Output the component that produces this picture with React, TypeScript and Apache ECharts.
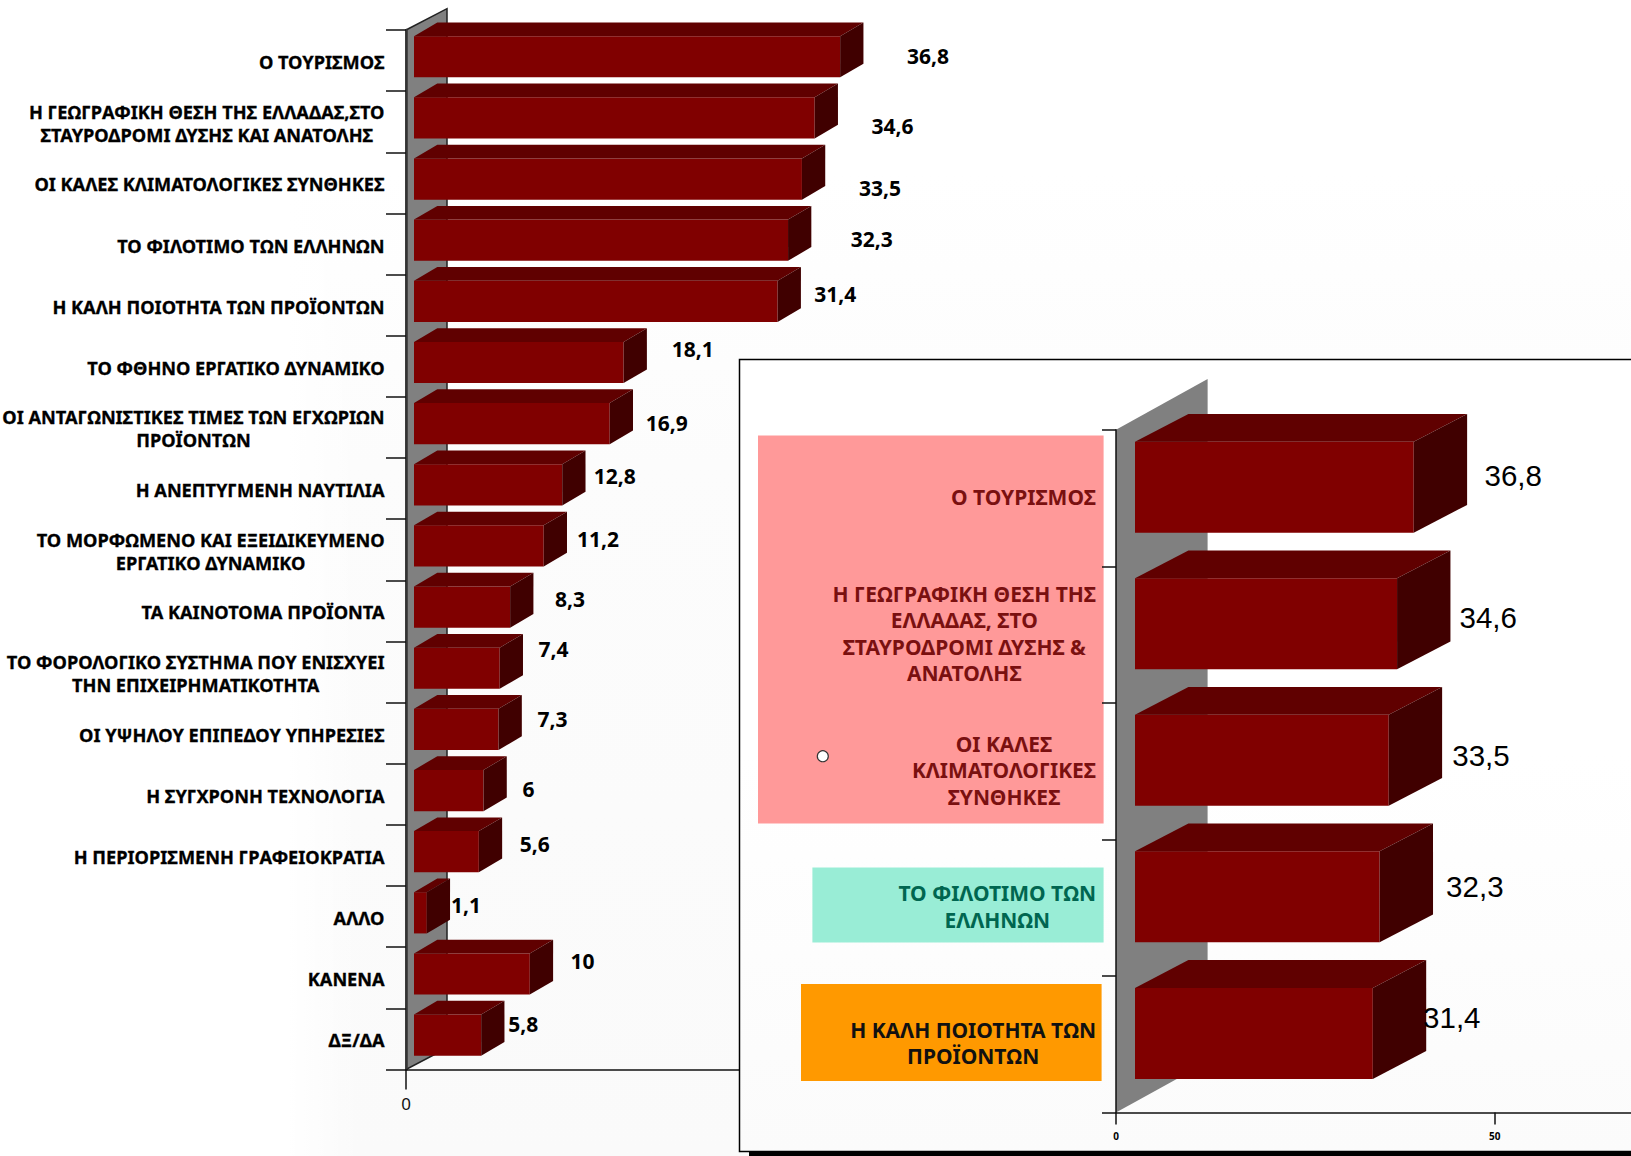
import React, { useEffect, useRef } from "react";
import * as echarts from "echarts";

const mainCategories = [
  "Ο ΤΟΥΡΙΣΜΟΣ",
  "Η ΓΕΩΓΡΑΦΙΚΗ ΘΕΣΗ ΤΗΣ ΕΛΛΑΔΑΣ,ΣΤΟ\nΣΤΑΥΡΟΔΡΟΜΙ ΔΥΣΗΣ ΚΑΙ ΑΝΑΤΟΛΗΣ",
  "ΟΙ ΚΑΛΕΣ ΚΛΙΜΑΤΟΛΟΓΙΚΕΣ ΣΥΝΘΗΚΕΣ",
  "ΤΟ ΦΙΛΟΤΙΜΟ ΤΩΝ ΕΛΛΗΝΩΝ",
  "Η ΚΑΛΗ ΠΟΙΟΤΗΤΑ ΤΩΝ ΠΡΟΪΟΝΤΩΝ",
  "ΤΟ ΦΘΗΝΟ ΕΡΓΑΤΙΚΟ ΔΥΝΑΜΙΚΟ",
  "ΟΙ ΑΝΤΑΓΩΝΙΣΤΙΚΕΣ ΤΙΜΕΣ ΤΩΝ ΕΓΧΩΡΙΩΝ\nΠΡΟΪΟΝΤΩΝ",
  "Η ΑΝΕΠΤΥΓΜΕΝΗ ΝΑΥΤΙΛΙΑ",
  "ΤΟ ΜΟΡΦΩΜΕΝΟ ΚΑΙ ΕΞΕΙΔΙΚΕΥΜΕΝΟ\nΕΡΓΑΤΙΚΟ ΔΥΝΑΜΙΚΟ",
  "ΤΑ ΚΑΙΝΟΤΟΜΑ ΠΡΟΪΟΝΤΑ",
  "ΤΟ ΦΟΡΟΛΟΓΙΚΟ ΣΥΣΤΗΜΑ ΠΟΥ ΕΝΙΣΧΥΕΙ\nΤΗΝ ΕΠΙΧΕΙΡΗΜΑΤΙΚΟΤΗΤΑ",
  "ΟΙ ΥΨΗΛΟΥ ΕΠΙΠΕΔΟΥ ΥΠΗΡΕΣΙΕΣ",
  "Η ΣΥΓΧΡΟΝΗ ΤΕΧΝΟΛΟΓΙΑ",
  "Η ΠΕΡΙΟΡΙΣΜΕΝΗ ΓΡΑΦΕΙΟΚΡΑΤΙΑ",
  "ΑΛΛΟ",
  "ΚΑΝΕΝΑ",
  "ΔΞ/ΔΑ",
];
const mainValues = [36.8, 34.6, 33.5, 32.3, 31.4, 18.1, 16.9, 12.8, 11.2, 8.3, 7.4, 7.3, 6, 5.6, 1.1, 10, 5.8];
const mainLabelDx = [95.8, 85.8, 86.1, 91.7, 65.7, 77.2, 65.1, 60.6, 62.4, 67.9, 61.7, 61.9, 52.9, 63.9, 47.3, 60.7, 50];
const mainLabelDy = [-4.4, 4.2, 5.4, -4.8, -10.8, -17.8, -4.1, -12.2, -11, -11.8, -23.1, -14.5, -4.9, -11, -11.7, -16.7, -15.4];

const insetCategories = [
  "Ο ΤΟΥΡΙΣΜΟΣ",
  "Η ΓΕΩΓΡΑΦΙΚΗ ΘΕΣΗ ΤΗΣ\nΕΛΛΑΔΑΣ, ΣΤΟ\nΣΤΑΥΡΟΔΡΟΜΙ ΔΥΣΗΣ &\nΑΝΑΤΟΛΗΣ",
  "ΟΙ ΚΑΛΕΣ\nΚΛΙΜΑΤΟΛΟΓΙΚΕΣ\nΣΥΝΘΗΚΕΣ",
  "ΤΟ ΦΙΛΟΤΙΜΟ ΤΩΝ\nΕΛΛΗΝΩΝ",
  "Η ΚΑΛΗ ΠΟΙΟΤΗΤΑ ΤΩΝ\nΠΡΟΪΟΝΤΩΝ",
];
const insetValues = [36.8, 34.6, 33.5, 32.3, 31.4];
const insetLabelStyleKeys = ["r", "r", "r", "t", "k"];
const insetLabelDx = [118.5, 110.2, 111.3, 114.2, 98];
const insetLabelDy = [-22.6, -16.6, -15.8, -21.3, -26.7];

const FRONT = "#800000";
const TOP = "#600000";
const SIDE = "#400000";
const FONT = "Noto Sans";

function barRenderer(cfg: any) {
  return (params: any, api: any) => {
    const i = api.value(1);
    const v = api.value(0);
    const start = api.coord([0, i]);
    const end = api.coord([v, i]);
    const x0 = start[0] + cfg.offX;
    const x1 = end[0] + cfg.offX;
    const cy = start[1] + cfg.offY;
    const y0 = cy - cfg.h / 2;
    const y1 = cy + cfg.h / 2;
    const { dx, dy } = cfg;
    return {
      type: "group",
      children: [
        { type: "rect", shape: { x: x0, y: y0, width: x1 - x0, height: y1 - y0 }, style: { fill: FRONT } },
        { type: "polygon", shape: { points: [[x0, y0], [x1, y0], [x1 + dx, y0 - dy], [x0 + dx, y0 - dy]] }, style: { fill: TOP } },
        { type: "polygon", shape: { points: [[x1, y0], [x1 + dx, y0 - dy], [x1 + dx, y1 - dy], [x1, y1]] }, style: { fill: SIDE } },
        {
          type: "text",
          x: end[0] + cfg.labelDx[params.dataIndex],
          y: start[1] + cfg.labelDy[params.dataIndex],
          z2: 10,
          style: {
            text: String(v).replace(".", ","),
            fill: "#000",
            fontFamily: cfg.font,
            fontSize: cfg.fontSize,
            fontWeight: cfg.fontWeight,
            align: "center",
            verticalAlign: "middle",
          },
        },
      ],
    };
  };
}

const centered = (text: string, key: string) =>
  text.split("\n").map((l) => `{${key}|${l}}`).join("\n");

export default function App() {
  const ref = useRef<HTMLDivElement>(null);
  useEffect(() => {
    const chart = echarts.init(ref.current!, undefined, { renderer: "svg" });
    const axisStroke = { color: "#111", width: 1.5 };
    const boldHeavy = { textBorderColor: "#000", textBorderWidth: 0.3 };
    const option: any = {
      animation: false,
      backgroundColor: {
        type: "linear", x: 0, y: 0, x2: 0, y2: 1,
        colorStops: [
          { offset: 0, color: "#ffffff" },
          { offset: 0.15, color: "#ffffff" },
          { offset: 0.4, color: "#fcfcfc" },
          { offset: 1, color: "#fafafa" },
        ],
      },
      grid: [
        { left: 406, top: 30, width: 579, height: 1039.5, containLabel: false, outerBoundsMode: "none" },
        { left: 1116, top: 429.7, width: 515, height: 682.8, containLabel: false, outerBoundsMode: "none" },
      ],
      xAxis: [
        {
          gridIndex: 0, type: "value", min: 0, max: 50, interval: 50,
          axisLine: { show: true, lineStyle: axisStroke },
          axisTick: { show: true, length: 20, lineStyle: axisStroke },
          axisLabel: { showMaxLabel: false, margin: 25, color: "#111", fontFamily: FONT, fontSize: 17 },
          splitLine: { show: false },
        },
        {
          gridIndex: 1, type: "value", min: 0, max: 68, interval: 50, z: 8,
          axisLine: { show: true, lineStyle: axisStroke },
          axisTick: { show: true, length: 12, lineStyle: axisStroke },
          axisLabel: { showMaxLabel: false, margin: 18, color: "#000", fontFamily: FONT, fontSize: 10, fontWeight: 700 },
          splitLine: { show: false },
        },
      ],
      yAxis: [
        {
          gridIndex: 0, type: "category", inverse: true, data: mainCategories,
          axisLine: { show: true, lineStyle: { color: "#333", width: 2.5 } },
          axisTick: { show: true, length: 20, lineStyle: axisStroke },
          axisLabel: {
            interval: 0, margin: 21.5, padding: [3, 0, 0, 0],
            formatter: (v: string) => centered(v, "m"),
            rich: { m: { align: "center", color: "#000", fontFamily: FONT, fontSize: 18.2, fontWeight: 700, lineHeight: 23, ...boldHeavy } },
          },
        },
        {
          gridIndex: 1, type: "category", inverse: true, data: insetCategories, z: 8,
          axisLine: { show: true, lineStyle: axisStroke },
          axisTick: { show: true, length: 14, lineStyle: axisStroke },
          axisLabel: {
            interval: 0, margin: 20, padding: [0, 0, 2, 0],
            formatter: (v: string, i: number) => centered(v, insetLabelStyleKeys[i]),
            rich: {
              r: { align: "center", color: "#7a1010", fontFamily: FONT, fontSize: 21, fontWeight: 700, lineHeight: 26.5 },
              t: { align: "center", color: "#006650", fontFamily: FONT, fontSize: 21, fontWeight: 700, lineHeight: 26.5 },
              k: { align: "center", color: "#111", fontFamily: FONT, fontSize: 21, fontWeight: 700, lineHeight: 26.5 },
            },
          },
        },
      ],
      series: [
        {
          type: "custom", xAxisIndex: 0, yAxisIndex: 0, z: 3,
          encode: { x: 0, y: 1 },
          data: mainValues.map((v, i) => [v, i]),
          renderItem: barRenderer({ offX: 8, offY: -3.8, h: 41.2, dx: 23.3, dy: 13.7, labelDx: mainLabelDx, labelDy: mainLabelDy, font: FONT, fontSize: 21, fontWeight: 700 }),
        },
        {
          type: "custom", xAxisIndex: 1, yAxisIndex: 1, z: 9,
          encode: { x: 0, y: 1 },
          data: insetValues.map((v, i) => [v, i]),
          renderItem: barRenderer({ offX: 19, offY: -10.8, h: 91, dx: 53.4, dy: 27.8, labelDx: insetLabelDx, labelDy: insetLabelDy, font: "Liberation Sans", fontSize: 29.5, fontWeight: 400 }),
        },
      ],
      graphic: {
        elements: [
          {
            type: "rect", z: -2, shape: { x: 0, y: 0, width: 360, height: 1156 },
            style: {
              fill: {
                type: "linear", x: 0, y: 0, x2: 1, y2: 0,
                colorStops: [
                  { offset: 0, color: "rgba(255,255,255,1)" },
                  { offset: 0.8, color: "rgba(255,255,255,1)" },
                  { offset: 1, color: "rgba(255,255,255,0)" },
                ],
              },
            },
          },
          { type: "polygon", z: -1, shape: { points: [[406, 30], [447, 8.7], [447, 1048], [406, 1069.5]] }, style: { fill: "#808080", stroke: "#222", lineWidth: 1.5 } },
          { type: "rect", z: 5, shape: { x: 749, y: 1150, width: 900, height: 10 }, style: { fill: "#000" } },
          {
            type: "rect", z: 5, shape: { x: 739.5, y: 359.5, width: 900, height: 792 },
            style: {
              fill: {
                type: "linear", x: 0, y: 0, x2: 0, y2: 1,
                colorStops: [
                  { offset: 0, color: "#ffffff" },
                  { offset: 0.5, color: "#ffffff" },
                  { offset: 1, color: "#fbfbfb" },
                ],
              },
              stroke: "#000",
              lineWidth: 1.5,
            },
          },
          { type: "polygon", z: 6, shape: { points: [[1116, 429.7], [1207.6, 379], [1207.6, 1062], [1116, 1112.5]] }, style: { fill: "#808080" } },
          { type: "rect", z: 6, shape: { x: 758, y: 435.5, width: 345.6, height: 388 }, style: { fill: "#ff9999" } },
          { type: "rect", z: 6, shape: { x: 812.4, y: 867.5, width: 291.2, height: 75 }, style: { fill: "#99edd6" } },
          { type: "rect", z: 6, shape: { x: 801, y: 984, width: 300.6, height: 97 }, style: { fill: "#ff9900" } },
          { type: "circle", z: 7, shape: { cx: 822.8, cy: 756.2, r: 5.5 }, style: { fill: "#fff", stroke: "#333", lineWidth: 1.2 } },
        ],
      },
    };
    chart.setOption(option);
    return () => chart.dispose();
  }, []);
  return <div ref={ref} style={{ position: "fixed", left: 0, top: 0, width: 1631, height: 1156 }} />;
}
